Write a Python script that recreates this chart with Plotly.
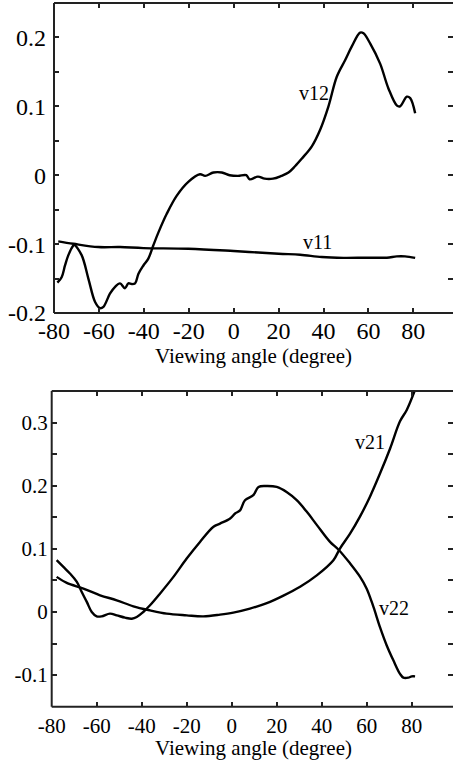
import plotly.graph_objects as go

# ---- upper panel: v11 and v12 versus viewing angle ----
v11_angle = [-78.1, -71.4, -60.3, -50.6, -40.2, -20.2, 0.0, 20.0, 29.6, 39.2,
             48.9, 59.3, 68.2, 72.6, 76.3, 80.8]
v11_value = [-0.096, -0.0995, -0.1043, -0.1043, -0.1058, -0.1067, -0.110, -0.114,
             -0.1154, -0.1188, -0.120, -0.1197, -0.1197, -0.1178, -0.1178, -0.120]

v12_angle = [-78.5, -76.6, -75.1, -73.6, -71.4, -71.0, -67.7, -64.7, -61.7, -59.5,
             -58.0, -55.1, -52.8, -50.6, -48.4, -46.9, -45.4, -43.9, -42.4, -40.2,
             -38.0, -35.8, -33.5, -29.8, -25.4, -20.2, -15.0, -12.7, -9.0, -5.3,
             -1.8, 1.9, 5.6, 7.1, 10.8, 13.8, 17.5, 21.2, 24.4, 27.3,
             30.3, 34.8, 38.5, 42.2, 45.9, 49.6, 52.6, 56.3, 57.8, 60.8,
             65.2, 68.9, 72.7, 74.1, 77.1, 78.6, 80.8]
v12_value = [-0.156, -0.148, -0.131, -0.116, -0.102, -0.101, -0.116, -0.150, -0.184, -0.193,
             -0.191, -0.172, -0.162, -0.157, -0.164, -0.157, -0.158, -0.157, -0.143, -0.131,
             -0.121, -0.102, -0.083, -0.056, -0.030, -0.0096, 0.0014, -0.001, 0.004, 0.004,
             0.0, -0.001, 0.0, -0.006, -0.002, -0.005, -0.005, -0.001, 0.004, 0.013,
             0.024, 0.042, 0.066, 0.100, 0.143, 0.167, 0.187, 0.207, 0.206, 0.191,
             0.162, 0.126, 0.101, 0.100, 0.114, 0.112, 0.090]

# ---- lower panel: v21 and v22 versus viewing angle ----
v21_angle = [-77.8, -73.3, -65.9, -58.5, -51.1, -43.7, -36.3, -28.9, -20.0, -12.6,
             -5.2, 0.7, 8.1, 15.6, 23.0, 30.4, 37.8, 45.2, 48.1, 52.6,
             57.0, 61.5, 66.0, 70.4, 74.8, 77.8, 81.5]
v21_value = [0.0556, 0.046, 0.037, 0.0265, 0.0185, 0.009, 0.0026, -0.0026, -0.0053, -0.0069,
             -0.0042, -0.001, 0.0053, 0.014, 0.026, 0.040, 0.058, 0.082, 0.1005, 0.124,
             0.151, 0.183, 0.220, 0.259, 0.302, 0.320, 0.352]

v22_angle = [-77.8, -74.8, -71.9, -68.9, -66.7, -64.4, -62.2, -60.0, -57.8, -54.1,
             -51.1, -47.4, -44.4, -42.2, -39.3, -36.3, -31.9, -25.9, -20.0, -14.1,
             -8.1, -5.2, -0.7, 1.5, 3.7, 5.9, 9.6, 11.9, 15.6, 20.0,
             24.4, 28.9, 33.3, 37.8, 43.7, 47.4, 52.6, 57.0, 60.0, 63.0,
             65.9, 68.9, 71.9, 74.8, 76.3, 78.5, 80.0, 81.5]
v22_value = [0.082, 0.0714, 0.061, 0.048, 0.032, 0.016, 0.0, -0.0069, -0.0069, -0.0026,
             -0.0053, -0.009, -0.0106, -0.008, 0.0, 0.0106, 0.029, 0.0556, 0.0847, 0.111,
             0.135, 0.140, 0.148, 0.156, 0.161, 0.177, 0.185, 0.198, 0.1995, 0.198,
             0.190, 0.177, 0.159, 0.138, 0.111, 0.099, 0.077, 0.056, 0.037, 0.008,
             -0.024, -0.053, -0.077, -0.098, -0.104, -0.104, -0.102, -0.102]

# tick labels
x_ticks = [-80, -60, -40, -20, 0, 20, 40, 60, 80]
x_tick_text = ["-80", "-60", "-40", "-20", "0", "20", "40", "60", "80"]
top_y_ticks = [-0.2, -0.1, 0.0, 0.1, 0.2]
top_y_text = ["-0.2", "-0.1", "0", "0.1", "0.2"]
bot_y_ticks = [-0.1, 0.0, 0.1, 0.2, 0.3]
bot_y_text = ["-0.1", "0", "0.1", "0.2", "0.3"]
x_title = "Viewing angle (degree)"

W, H = 453, 761
FONT = "Liberation Serif"
LINE = dict(color="black", width=2.4)

fig = go.Figure()
fig.add_trace(go.Scatter(x=v11_angle, y=v11_value, mode="lines", line=LINE,
                         line_shape="spline", xaxis="x", yaxis="y"))
fig.add_trace(go.Scatter(x=v12_angle, y=v12_value, mode="lines", line=LINE,
                         line_shape="spline", xaxis="x", yaxis="y"))
fig.add_trace(go.Scatter(x=v21_angle, y=v21_value, mode="lines", line=LINE,
                         line_shape="spline", xaxis="x2", yaxis="y2"))
fig.add_trace(go.Scatter(x=v22_angle, y=v22_value, mode="lines", line=LINE,
                         line_shape="spline", xaxis="x2", yaxis="y2"))

# pixel layout of the two panels
top_l, top_t, top_b = 54, 3, 313
bot_l, bot_t, bot_b = 51.7, 391, 706.7


def xdom(left):
    return [left / W, 1.0]


def ydom(top, bottom):
    return [1 - bottom / H, 1 - top / H]


def xaxis(left, scale, size, standoff, anchor):
    span = (W - left) / scale
    return dict(domain=xdom(left), range=[-80, -80 + span], anchor=anchor,
                tickmode="array", tickvals=x_ticks, ticktext=x_tick_text,
                ticks="inside", ticklen=5, tickwidth=1.5, tickcolor="#222",
                mirror="ticks", showline=False, showgrid=False, zeroline=False,
                automargin=False,
                tickfont=dict(family=FONT, size=size, color="black"),
                ticklabelstandoff=standoff)


def yaxis(top, bottom, rng, vals, text, size, standoff, anchor):
    return dict(domain=ydom(top, bottom), range=rng, anchor=anchor,
                tickmode="array", tickvals=vals, ticktext=text,
                ticks="inside", ticklen=5, tickwidth=1.5, tickcolor="#222",
                mirror="ticks", showline=False, showgrid=False, zeroline=False,
                automargin=False,
                minor=dict(dtick=0.05, tick0=0, ticks="inside", ticklen=5,
                           tickwidth=1.5, tickcolor="#222"),
                tickfont=dict(family=FONT, size=size, color="black"),
                ticklabelstandoff=standoff)


fig.update_layout(
    width=W, height=H, margin=dict(l=0, r=0, t=0, b=0),
    font=dict(family=FONT, size=21, color="black"),
    paper_bgcolor="white", plot_bgcolor="white", showlegend=False,
    xaxis=xaxis(top_l, 2.246, 24, 1, "y"),
    yaxis=yaxis(top_t, top_b, [-0.2, 0.25], top_y_ticks, top_y_text, 24, 7, "x"),
    xaxis2=xaxis(bot_l, 2.25, 21, 4, "y2"),
    yaxis2=yaxis(bot_t, bot_b, [-0.15, 0.35], bot_y_ticks, bot_y_text, 21, 3, "x2"),
)

# spines: left, bottom and top of each panel
spine = dict(color="#222", width=2)
for xr, yr in (("x", "y"), ("x2", "y2")):
    for x0, y0, x1, y1 in ((0, 0, 0, 1), (0, 0, 1, 0), (0, 1, 1, 1)):
        fig.add_shape(type="line", xref=f"{xr} domain", yref=f"{yr} domain",
                      x0=x0, y0=y0, x1=x1, y1=y1, line=spine)

# curve labels
labels = [("x", "y", 35.8, 0.120, "v12"), ("x", "y", 37.3, -0.097, "v11"),
          ("x2", "y2", 61.5, 0.269, "v21"), ("x2", "y2", 72.1, 0.006, "v22")]
for xr, yr, x, y, t in labels:
    fig.add_annotation(x=x, y=y, xref=xr, yref=yr, text=t, showarrow=False,
                       xanchor="center", yanchor="middle",
                       font=dict(family=FONT, size=20, color="black"))

# axis titles
for ymid in (356, 748):
    fig.add_annotation(x=253.5 / W, y=1 - ymid / H, xref="paper", yref="paper",
                       xanchor="center", yanchor="middle", text=x_title,
                       showarrow=False, font=dict(family=FONT, size=21, color="black"))

fig.write_html("out.html")
